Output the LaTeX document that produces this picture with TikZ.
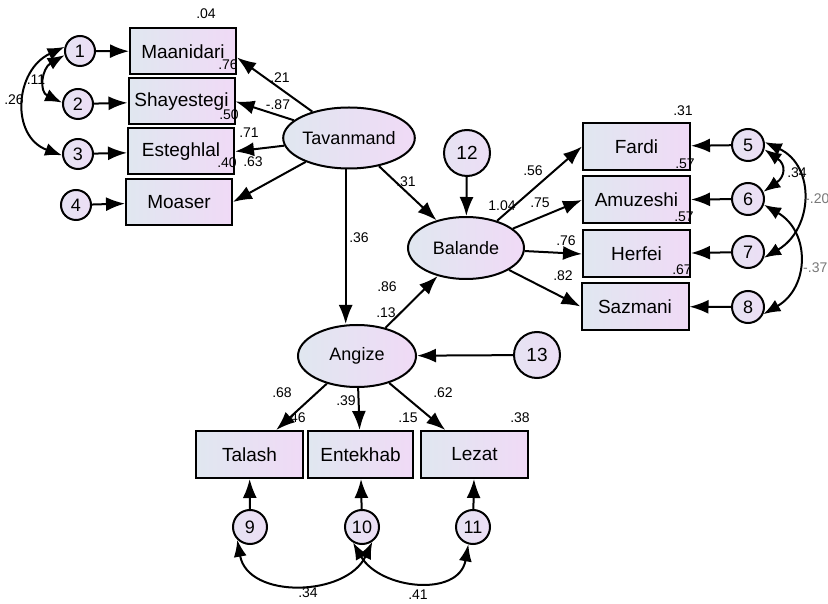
\documentclass[tikz,border=0pt]{standalone}
\usepackage{fontspec}
\setmainfont{Liberation Sans}
\usetikzlibrary{shapes.geometric,arrows.meta}
\definecolor{shl}{RGB}{224,231,240}
\definecolor{shr}{RGB}{240,218,246}
\definecolor{cfill}{RGB}{236,222,245}
\definecolor{gry}{RGB}{120,120,120}
\tikzset{
  box/.style={draw, line width=2pt, minimum width=106pt, minimum height=46pt, inner sep=0pt,
    left color=shl, right color=shr, font=\fontsize{19}{19}\selectfont},
  lat/.style={ellipse, draw, line width=2pt, minimum width=118pt, minimum height=61pt, inner sep=0pt,
    left color=shl, right color=shr, font=\fontsize{18}{18}\selectfont},
  err/.style={circle, draw, line width=2pt, inner sep=0pt, left color=shl!50!cfill, right color=cfill,
    font=\fontsize{18}{18}\selectfont},
  lbl/.style={inner sep=0pt, font=\fontsize{14}{14}\selectfont},
  pth/.style={line width=2pt, -{Latex[length=19pt,width=14pt]}},
  cov/.style={line width=2pt, {Latex[length=17pt,width=13pt]}-{Latex[length=17pt,width=13pt]}},
}
\begin{document}
\begin{tikzpicture}[x=1pt,y=1pt]
\useasboundingbox[fill=white] (0,0) rectangle (828,603);
% observed (left)
\node[box] (maan) at (183,551.5) {Maanidari};
\node[box] (shay) at (181.5,501.5) {Shayestegi};
\node[box] (este) at (181,451.5) {Esteghlal};
\node[box] (moas) at (179,401) {Moaser};
\node[err, minimum size=30pt] (c1) at (80,552) {1};
\node[err, minimum size=30pt] (c2) at (78,499) {2};
\node[err, minimum size=30pt] (c3) at (78,449) {3};
\node[err, minimum size=30pt] (c4) at (76,398) {4};
% latents
\node[lat] (tav) at (349,465) {Tavanmand};
\node[lat, minimum width=116pt, minimum height=62pt] (bal) at (466,355) {Balande};
\node[lat, minimum height=62pt] (ang) at (357,247) {Angize};
\node[err, minimum size=46pt, font=\fontsize{19}{19}\selectfont] (c12) at (467,450) {12};
\node[err, minimum size=46pt, font=\fontsize{19}{19}\selectfont] (c13) at (537,248) {13};
% observed (bottom)
\node[box, minimum height=47pt, minimum width=107pt] (tal) at (249.5,148.5) {Talash};
\node[box, minimum height=47pt, minimum width=105pt] (ent) at (360.5,148.5) {Entekhab};
\node[box, minimum height=47pt, minimum width=107pt] (lez) at (474.5,148.5) {Lezat};
\node[err, minimum size=34pt] (c9) at (250,76) {9};
\node[err, minimum size=34pt] (c10) at (362,76) {10};
\node[err, minimum size=34pt] (c11) at (473,76) {11};
% observed (right)
\node[box, minimum width=107pt, minimum height=47pt] (far) at (636.5,456.5) {Fardi};
\node[box, minimum width=107pt, minimum height=47pt] (amu) at (636.5,403) {Amuzeshi};
\node[box, minimum width=107pt, minimum height=47pt] (her) at (636.5,349) {Herfei};
\node[box, minimum width=107pt, minimum height=47pt] (saz) at (635,296.5) {Sazmani};
\node[err, minimum size=32pt] (c5) at (748,458) {5};
\node[err, minimum size=32pt] (c6) at (748,404) {6};
\node[err, minimum size=32pt] (c7) at (748,351) {7};
\node[err, minimum size=32pt] (c8) at (748,296) {8};
% paths
\draw[pth] (c1) -- (maan);
\draw[pth] (c2) -- (shay);
\draw[pth] (c3) -- (este);
\draw[pth] (c4) -- (moas);
\draw[pth] (tav) -- ([yshift=-6pt]maan.east);
\draw[pth] (tav) -- (shay.east);
\draw[pth] (tav) -- (este.east);
\draw[pth] (tav) -- (moas.east);
\draw[pth] (tav) -- (bal);
\draw[pth] (tav.-96) -- (tav.-96 |- ang.north);
\draw[pth] (ang) -- (bal);
\draw[pth] (c12) -- (bal);
\draw[pth] (c13) -- (ang);
\draw[pth] (bal) -- (far.west);
\draw[pth] (bal) -- (amu.west);
\draw[pth] (bal) -- (her.west);
\draw[pth] (bal) -- (saz.west);
\draw[pth] (c5) -- (far);
\draw[pth] (c6) -- (amu);
\draw[pth] (c7) -- (her);
\draw[pth] (c8) -- (saz);
\draw[pth] (ang) -- (tal);
\draw[pth] (ang) -- (ent);
\draw[pth] (ang) -- (lez);
\draw[pth] (c9) -- (tal);
\draw[pth] (c10) -- (ent);
\draw[pth] (c11) -- (lez);
% covariances
\draw[cov] (c1.195) to[out=210,in=155,looseness=1.4] (c2.175);
\draw[cov] (c1.165) to[out=205,in=160,looseness=1.3] (c3.185);
\draw[cov] (c5.-15) to[out=-35,in=35,looseness=1.6] (c6.25);
\draw[cov] (c5.10) to[out=-25,in=30,looseness=1.25] (c7.-20);
\draw[cov] (c6.-20) to[out=-30,in=30,looseness=1.25] (c8.-25);
\draw[cov] (c9.-135) to[out=-80,in=-115,looseness=1.15] (c10.-55);
\draw[cov] (c10.-120) to[out=-60,in=-100,looseness=1.2] (c11.-105);
% labels
\node[lbl] (l01) at (206,589) {.04};
\node[lbl] (l02) at (228,538) {.76};
\node[lbl] (l03) at (280,525) {.21};
\node[lbl] (l04) at (278,498) {-.87};
\node[lbl] (l05) at (229,488) {.50};
\node[lbl] (l06) at (249,470) {.71};
\node[lbl] (l07) at (227,440) {.40};
\node[lbl] (l08) at (253,441) {.63};
\node[lbl] (l09) at (36,523) {.11};
\node[lbl] (l10) at (14,503) {.26};
\node[lbl] (l11) at (406,421) {.31};
\node[lbl] (l12) at (359,365) {.36};
\node[lbl] (l13) at (387,316) {.86};
\node[lbl] (l14) at (386,290) {.13};
\node[lbl] (l15) at (502,397) {1.04};
\node[lbl] (l16) at (533,432) {.56};
\node[lbl] (l17) at (540,400) {.75};
\node[lbl] (l18) at (566,362) {.76};
\node[lbl] (l19) at (563,327) {.82};
\node[lbl] (l20) at (683,492) {.31};
\node[lbl] (l21) at (685,439) {.57};
\node[lbl] (l22) at (684,386) {.57};
\node[lbl] (l23) at (682,333) {.67};
\node[lbl] (l24) at (797,430) {.34};
\node[lbl, text=gry, anchor=west] (l25) at (805,404) {-.20};
\node[lbl, text=gry, anchor=west] (l26) at (803,335) {-.37};
\node[lbl] (l27) at (282,210) {.68};
\node[lbl] (l28) at (296,185) {.46};
\node[lbl] (l29) at (346,202) {.39};
\node[lbl] (l30) at (408,185) {.15};
\node[lbl] (l31) at (443,210) {.62};
\node[lbl] (l32) at (520,185) {.38};
\node[lbl] (l33) at (308,10) {.34};
\node[lbl] (l34) at (418,8) {.41};
\end{tikzpicture}
\end{document}
